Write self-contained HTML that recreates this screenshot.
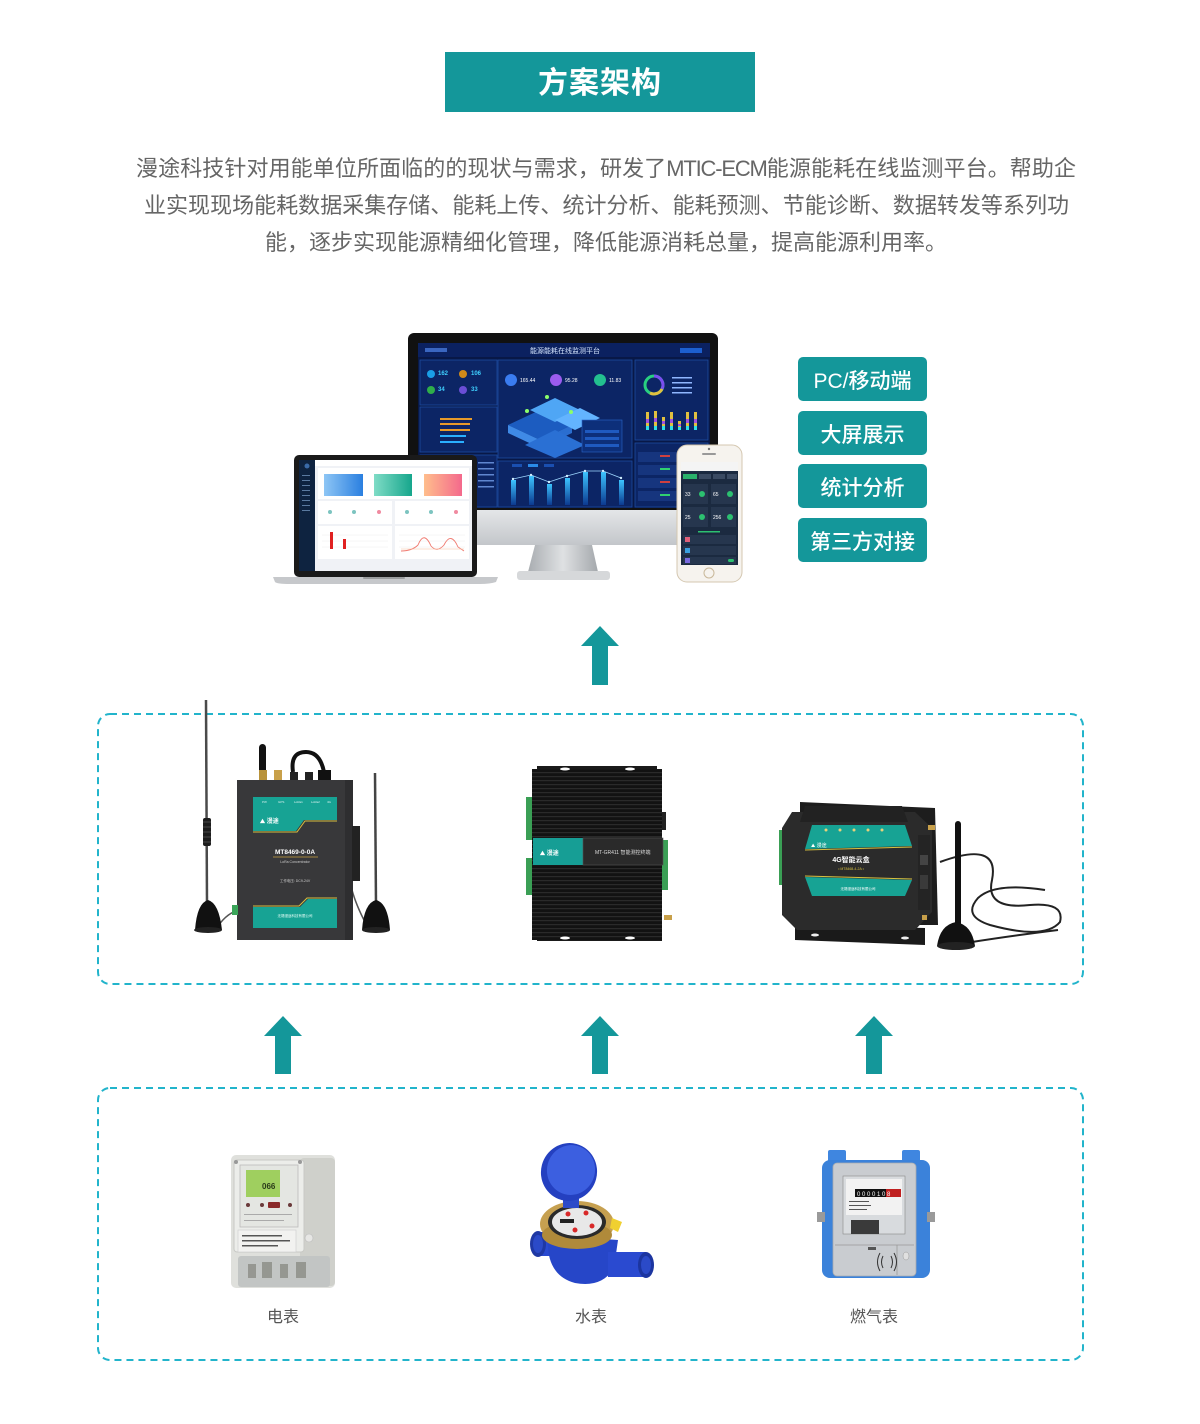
<!DOCTYPE html>
<html><head><meta charset="utf-8">
<style>
html,body{margin:0;padding:0;background:#fff;}
body{width:1200px;height:1424px;position:relative;overflow:hidden;font-family:"Liberation Sans","Noto Sans CJK SC",sans-serif;}
.title{position:absolute;left:445px;top:52px;width:310px;height:60px;background:#14979a;color:#fff;font-size:30px;font-weight:bold;text-align:center;line-height:63px;letter-spacing:1px;}
.p{position:absolute;font-size:22px;color:#666;line-height:37px;height:37px;text-align:justify;text-align-last:justify;}
.btn{position:absolute;left:798px;width:129px;height:44px;background:#14979a;border-radius:5px;color:#fff;font-size:21px;text-align:center;line-height:50px;font-weight:500;overflow:hidden;}
.lbl{position:absolute;font-size:16px;color:#555;width:100px;text-align:center;line-height:24px;}
svg{position:absolute;left:0;top:0;}
</style></head><body>

<svg width="1200" height="1424" viewBox="0 0 1200 1424" xmlns="http://www.w3.org/2000/svg" font-family="Liberation Sans, Noto Sans CJK SC, sans-serif">
<defs>
  <pattern id="fins" x="0" y="0" width="4" height="4" patternUnits="userSpaceOnUse">
    <rect width="4" height="4" fill="#121212"/>
    <rect y="0" width="4" height="1.2" fill="#2a2a2a"/>
  </pattern>
  <linearGradient id="gBlue" x1="0" y1="0" x2="1" y2="0"><stop offset="0" stop-color="#8ec6f5"/><stop offset="1" stop-color="#2a7fe0"/></linearGradient>
  <linearGradient id="gTeal" x1="0" y1="0" x2="1" y2="0"><stop offset="0" stop-color="#7fdcc6"/><stop offset="1" stop-color="#16a68c"/></linearGradient>
  <linearGradient id="gSal" x1="0" y1="0" x2="1" y2="0"><stop offset="0" stop-color="#ffbe8c"/><stop offset="1" stop-color="#f4698c"/></linearGradient>
  <linearGradient id="gChin" x1="0" y1="0" x2="0" y2="1"><stop offset="0" stop-color="#e4e6e8"/><stop offset="1" stop-color="#c3c6ca"/></linearGradient>
  <linearGradient id="gNeck" x1="0" y1="0" x2="1" y2="0"><stop offset="0" stop-color="#a9adb1"/><stop offset="0.5" stop-color="#dfe1e3"/><stop offset="1" stop-color="#a4a8ac"/></linearGradient>
  <linearGradient id="gBar" x1="0" y1="0" x2="0" y2="1"><stop offset="0" stop-color="#3cc4ff"/><stop offset="1" stop-color="#0c3a90"/></linearGradient>
</defs>

<!-- ============ MONITOR ============ -->
<rect x="408" y="333" width="310" height="212" rx="6" fill="#111"/>
<rect x="418" y="343" width="292" height="165" fill="#081847"/>
<rect x="408" y="510" width="310" height="35" fill="url(#gChin)"/>
<polygon points="535,545 592,545 598,572 528,572" fill="url(#gNeck)"/>
<rect x="517" y="571" width="93" height="9" rx="3" fill="#d6d8da"/>
<rect x="418" y="343" width="292" height="14" fill="#0b2160"/>
<text x="565" y="353" font-size="7" fill="#d6e6ff" text-anchor="middle">能源能耗在线监测平台</text>
<rect x="425" y="348" width="22" height="4" fill="#3a66c0"/>
<rect x="680" y="348" width="22" height="5" fill="#1c5fcf"/>
<g fill="#0c2565" stroke="#1d4aa0" stroke-width="0.8">
  <rect x="420" y="360" width="77" height="45"/>
  <rect x="420" y="407" width="77" height="45"/>
  <rect x="420" y="455" width="77" height="52"/>
  <rect x="498" y="360" width="134" height="98"/>
  <rect x="498" y="461" width="134" height="46"/>
  <rect x="635" y="360" width="73" height="80"/>
  <rect x="635" y="443" width="73" height="64"/>
</g>
<circle cx="431" cy="374" r="4" fill="#1a9fe6"/>
<circle cx="463" cy="374" r="4" fill="#d08a1a"/>
<circle cx="431" cy="390" r="4" fill="#2fae4a"/>
<circle cx="463" cy="390" r="4" fill="#6b4ed6"/>
<g font-size="6" fill="#3fd0ff" font-weight="bold">
<text x="438" y="375">162</text><text x="471" y="375">106</text>
<text x="438" y="391">34</text><text x="471" y="391">33</text></g>
<g fill="#e69a2a"><rect x="440" y="418" width="32" height="2"/><rect x="440" y="423" width="30" height="2"/><rect x="440" y="429" width="30" height="2"/></g>
<g fill="#2ab0ff"><rect x="440" y="435" width="26" height="2"/><rect x="440" y="441" width="24" height="2"/></g>
<circle cx="511" cy="380" r="6" fill="#3a7cf0"/>
<circle cx="556" cy="380" r="6" fill="#9b5cf0"/>
<circle cx="600" cy="380" r="6" fill="#23c08f"/>
<g font-size="5" fill="#fff"><text x="520" y="382">165.44</text><text x="565" y="382">95.28</text><text x="609" y="382">11.83</text></g>
<polygon points="508,425 540,410 572,425 540,440" fill="#1c5cc0"/>
<polygon points="508,425 540,440 540,448 508,433" fill="#3f8ae6"/>
<polygon points="540,440 572,425 572,433 540,448" fill="#2a6ed0"/>
<polygon points="530,410 555,398 580,410 555,422" fill="#4fa6f5"/>
<polygon points="555,420 580,408 600,418 575,430" fill="#63b4ff"/>
<polygon points="525,445 555,430 585,445 555,458" fill="#2a70d4"/>
<rect x="582" y="420" width="40" height="32" fill="#0d2f7a" stroke="#2a66c8" stroke-width="0.6"/>
<g fill="#1f5ac0"><rect x="585" y="430" width="34" height="3"/><rect x="585" y="437" width="34" height="3"/><rect x="585" y="444" width="34" height="3"/></g>
<circle cx="547" cy="397" r="2" fill="#8cff6a"/><circle cx="527" cy="411" r="2" fill="#8cff6a"/><circle cx="571" cy="412" r="2" fill="#8cff6a"/>
<g fill="url(#gBar)">
<rect x="511" y="480" width="5" height="25"/><rect x="529" y="476" width="5" height="29"/><rect x="547" y="484" width="5" height="21"/>
<rect x="565" y="478" width="5" height="27"/><rect x="583" y="472" width="5" height="33"/><rect x="601" y="472" width="5" height="33"/><rect x="619" y="480" width="5" height="25"/></g>
<polyline points="513,479 531,475 549,482 567,476 585,471 603,471 621,478" fill="none" stroke="#9fd8ff" stroke-width="0.8"/>
<g fill="#d0eeff"><circle cx="513" cy="479" r="1.2"/><circle cx="531" cy="475" r="1.2"/><circle cx="549" cy="482" r="1.2"/><circle cx="567" cy="476" r="1.2"/><circle cx="585" cy="471" r="1.2"/><circle cx="603" cy="471" r="1.2"/><circle cx="621" cy="478" r="1.2"/></g>
<g fill="#1a4fb0"><rect x="512" y="464" width="10" height="3"/><rect x="528" y="464" width="10" height="3" fill="#2a8ae8"/><rect x="544" y="464" width="10" height="3"/></g>
<circle cx="654" cy="385" r="9" fill="none" stroke="#28d080" stroke-width="3"/>
<path d="M654 376 A9 9 0 0 1 662 389" fill="none" stroke="#7a4df0" stroke-width="3"/>
<path d="M662 389 A9 9 0 0 1 650 393" fill="none" stroke="#e0c040" stroke-width="3"/>
<g fill="#8fb6ff"><rect x="672" y="377" width="20" height="1.5"/><rect x="672" y="382" width="20" height="1.5"/><rect x="672" y="387" width="20" height="1.5"/><rect x="672" y="392" width="20" height="1.5"/></g>
<g>
<rect x="646" y="412" width="3" height="18" fill="#e0c040"/><rect x="654" y="411" width="3" height="19" fill="#e0c040"/><rect x="662" y="417" width="3" height="13" fill="#e0c040"/>
<rect x="670" y="412" width="3" height="18" fill="#e0c040"/><rect x="678" y="421" width="3" height="9" fill="#e0c040"/><rect x="686" y="412" width="3" height="18" fill="#e0c040"/><rect x="694" y="412" width="3" height="18" fill="#e0c040"/>
<g fill="#a050e0"><rect x="646" y="419" width="3" height="4"/><rect x="654" y="418" width="3" height="4"/><rect x="662" y="421" width="3" height="3"/><rect x="670" y="419" width="3" height="4"/><rect x="678" y="424" width="3" height="2"/><rect x="686" y="419" width="3" height="4"/><rect x="694" y="419" width="3" height="4"/></g>
<g fill="#30e0e8"><rect x="646" y="426" width="3" height="4"/><rect x="654" y="426" width="3" height="4"/><rect x="662" y="426" width="3" height="4"/><rect x="670" y="426" width="3" height="4"/><rect x="678" y="427" width="3" height="3"/><rect x="686" y="426" width="3" height="4"/><rect x="694" y="426" width="3" height="4"/></g>
</g>
<g fill="#16357e"><rect x="638" y="452" width="67" height="10"/><rect x="638" y="465" width="67" height="10"/><rect x="638" y="478" width="67" height="10"/><rect x="638" y="491" width="67" height="10"/></g>
<g fill="#d04040"><rect x="660" y="455" width="10" height="2"/><rect x="660" y="481" width="10" height="2"/></g>
<g fill="#30d070"><rect x="660" y="468" width="10" height="2"/><rect x="660" y="494" width="10" height="2"/></g>
<g fill="#5f86d0"><rect x="478" y="462" width="16" height="1.5"/><rect x="478" y="468" width="16" height="1.5"/><rect x="478" y="474" width="16" height="1.5"/><rect x="478" y="480" width="16" height="1.5"/><rect x="478" y="486" width="16" height="1.5"/></g>

<!-- ============ LAPTOP ============ -->
<rect x="294" y="455" width="183" height="122" rx="5" fill="#1a1a1a"/>
<rect x="299" y="460" width="173" height="111" fill="#f0f2f6"/>
<rect x="299" y="460" width="16" height="111" fill="#0e2340"/>
<rect x="315" y="460" width="157" height="6" fill="#fff"/>
<circle cx="307" cy="466" r="2.5" fill="#3a6aa8"/>
<g fill="#5a7aa0"><rect x="302" y="475" width="8" height="1"/><rect x="302" y="480" width="8" height="1"/><rect x="302" y="485" width="8" height="1"/><rect x="302" y="490" width="8" height="1"/><rect x="302" y="495" width="8" height="1"/><rect x="302" y="500" width="8" height="1"/><rect x="302" y="505" width="8" height="1"/><rect x="302" y="510" width="8" height="1"/></g>
<rect x="318" y="468" width="151" height="31" fill="#fff"/>
<rect x="324" y="474" width="39" height="22" fill="url(#gBlue)"/>
<rect x="374" y="474" width="38" height="22" fill="url(#gTeal)"/>
<rect x="424" y="474" width="38" height="22" fill="url(#gSal)"/>
<g fill="#fff"><rect x="318" y="501" width="74" height="23"/><rect x="395" y="501" width="74" height="23"/><rect x="318" y="526" width="74" height="33"/><rect x="395" y="526" width="74" height="33"/></g>
<g fill="#7cc4c0"><circle cx="330" cy="512" r="2"/><circle cx="354" cy="512" r="2"/><circle cx="407" cy="512" r="2"/><circle cx="431" cy="512" r="2"/></g>
<g fill="#f08aa0"><circle cx="379" cy="512" r="2"/><circle cx="456" cy="512" r="2"/></g>
<g stroke="#eee" stroke-width="0.5"><line x1="322" y1="535" x2="388" y2="535"/><line x1="322" y1="541" x2="388" y2="541"/><line x1="322" y1="547" x2="388" y2="547"/><line x1="399" y1="535" x2="465" y2="535"/><line x1="399" y1="541" x2="465" y2="541"/><line x1="399" y1="547" x2="465" y2="547"/></g>
<rect x="330" y="532" width="3" height="17" fill="#e02020"/>
<rect x="343" y="539" width="3" height="10" fill="#e02020"/>
<path d="M401 551 Q412 551 418 545 Q424 530 431 546 Q437 553 444 545 Q451 531 458 547 L464 551" fill="none" stroke="#f07a70" stroke-width="0.9"/>
<line x1="401" y1="549" x2="464" y2="549" stroke="#f5c0a0" stroke-width="0.6"/>
<path d="M273 577 L498 577 L496 582 Q490 584 480 584 L290 584 Q277 584 275 582 Z" fill="#c6c8cb"/>
<rect x="363" y="577" width="42" height="2" rx="1" fill="#9a9c9e"/>

<!-- ============ PHONE ============ -->
<rect x="677" y="445" width="65" height="137" rx="10" fill="#f6f3ee" stroke="#d4c7b0" stroke-width="1"/>
<rect x="702" y="453" width="14" height="2" rx="1" fill="#999"/>
<circle cx="709" cy="449" r="1.2" fill="#777"/>
<rect x="681" y="462" width="57" height="103" fill="#1b2a40"/>
<rect x="681" y="462" width="57" height="9" fill="#f4f4f4"/>
<rect x="683" y="474" width="14" height="5" fill="#28b06a"/>
<g fill="#3a4a62"><rect x="699" y="474" width="12" height="5"/><rect x="713" y="474" width="12" height="5"/><rect x="727" y="474" width="10" height="5"/></g>
<g fill="#26364e"><rect x="683" y="484" width="25" height="20"/><rect x="711" y="484" width="25" height="20"/><rect x="683" y="507" width="25" height="20"/><rect x="711" y="507" width="25" height="20"/></g>
<g font-size="5" fill="#fff"><text x="685" y="496">33</text><text x="713" y="496">65</text><text x="685" y="519">25</text><text x="713" y="519">256</text></g>
<g fill="#2cc070"><circle cx="702" cy="494" r="3"/><circle cx="730" cy="494" r="3"/><circle cx="702" cy="517" r="3"/><circle cx="730" cy="517" r="3"/></g>
<rect x="698" y="531" width="22" height="1.5" fill="#2cc070"/>
<g fill="#26364e"><rect x="683" y="535" width="53" height="9"/><rect x="683" y="546" width="53" height="9"/><rect x="683" y="557" width="53" height="7"/></g>
<rect x="685" y="537" width="5" height="5" fill="#e0607a"/><rect x="685" y="548" width="5" height="5" fill="#3aa0e0"/><rect x="685" y="558" width="5" height="5" fill="#7a6ae0"/>
<rect x="728" y="559" width="6" height="3" rx="1.5" fill="#2cc070"/>
<circle cx="709" cy="573" r="5" fill="none" stroke="#c9b89a" stroke-width="1"/>

<!-- ============ ARROWS ============ -->
<g fill="#14979a">
<polygon points="581,646 600,626 619,646"/><rect x="592" y="645" width="16" height="40"/>
<polygon points="264,1036 283,1016 302,1036"/><rect x="275" y="1035" width="16" height="39"/>
<polygon points="581,1036 600,1016 619,1036"/><rect x="592" y="1035" width="16" height="39"/>
<polygon points="855,1036 874,1016 893,1036"/><rect x="866" y="1035" width="16" height="39"/>
</g>

<!-- ============ DASHED BOXES ============ -->
<rect x="98" y="714" width="985" height="270" rx="12" fill="none" stroke="#22b4cb" stroke-width="2" stroke-dasharray="7 5"/>
<rect x="98" y="1088" width="985" height="272" rx="12" fill="none" stroke="#22b4cb" stroke-width="2" stroke-dasharray="7 5"/>

<!-- ============ DEVICE 1 ============ -->
<path d="M218 926 Q228 912 240 910" fill="none" stroke="#555" stroke-width="1.5"/>
<path d="M366 924 Q356 905 352 890" fill="none" stroke="#555" stroke-width="1.5"/>
<line x1="206" y1="700" x2="207" y2="905" stroke="#4a4a4a" stroke-width="2.5"/>
<rect x="203" y="818" width="8" height="28" rx="2" fill="#1c1c1c"/>
<g stroke="#555" stroke-width="0.8"><line x1="203" y1="822" x2="211" y2="822"/><line x1="203" y1="827" x2="211" y2="827"/><line x1="203" y1="832" x2="211" y2="832"/><line x1="203" y1="837" x2="211" y2="837"/><line x1="203" y1="842" x2="211" y2="842"/></g>
<path d="M195 930 Q197 903 208 900 Q219 903 222 930 Z" fill="#111"/>
<ellipse cx="208" cy="930" rx="14" ry="3" fill="#222"/>
<line x1="375" y1="773" x2="376" y2="905" stroke="#444" stroke-width="2.5"/>
<path d="M362 930 Q364 903 376 900 Q388 903 390 930 Z" fill="#111"/>
<ellipse cx="376" cy="930" rx="14" ry="3" fill="#222"/>
<rect x="259" y="744" width="7" height="30" rx="3.5" fill="#111"/>
<rect x="259" y="770" width="8" height="10" fill="#b8923a"/>
<rect x="274" y="770" width="8" height="10" fill="#c8a04a"/>
<rect x="290" y="772" width="8" height="8" fill="#222"/>
<rect x="305" y="772" width="8" height="8" fill="#222"/>
<path d="M293 772 Q290 752 306 752 Q320 752 324 772" fill="none" stroke="#111" stroke-width="4"/>
<rect x="318" y="770" width="13" height="10" fill="#111"/>
<rect x="237" y="780" width="116" height="160" fill="#38383a"/>
<rect x="345" y="780" width="8" height="160" fill="#2e2e30"/>
<rect x="352" y="826" width="8" height="55" fill="#222"/>
<rect x="232" y="905" width="6" height="10" fill="#3aa55a"/>
<polygon points="253,797 337,797 337,820 304,820 296,831 253,831" fill="#17a394"/>
<polyline points="253,832 297,832 305,821 337,821" fill="none" stroke="#d8c040" stroke-width="1"/>
<g fill="#d8f0ee" font-size="3"><text x="262" y="803">PW</text><text x="278" y="803">GPS</text><text x="294" y="803">LoRa1</text><text x="311" y="803">LoRa2</text><text x="327" y="803">4G</text></g>
<text x="260" y="823" font-size="6" fill="#fff" font-weight="bold">⛰ 漫途</text>
<text x="295" y="854" font-size="6.5" fill="#fff" font-weight="bold" text-anchor="middle">MT8469-0-0A</text>
<line x1="273" y1="857" x2="318" y2="857" stroke="#c8a040" stroke-width="0.7"/>
<text x="295" y="863" font-size="3.5" fill="#ccc" text-anchor="middle">LoRa Concentrator</text>
<text x="295" y="882" font-size="3.5" fill="#ccc" text-anchor="middle">工作电压: DC9-24V</text>
<polygon points="253,907 300,907 308,899 337,899 337,928 253,928" fill="#17a394"/>
<polyline points="253,906 299,906 307,898 337,898" fill="none" stroke="#d8c040" stroke-width="1"/>
<text x="295" y="917" font-size="3.5" fill="#e8fff8" text-anchor="middle">无锡漫途科技有限公司</text>

<!-- ============ DEVICE 2 ============ -->
<rect x="537" y="766" width="120" height="6" fill="#1a1a1a"/>
<rect x="537" y="935" width="125" height="6" fill="#1a1a1a"/>
<rect x="532" y="769" width="130" height="171" fill="url(#fins)"/>
<ellipse cx="565" cy="769" rx="5" ry="1.5" fill="#fff"/><ellipse cx="630" cy="769" rx="5" ry="1.5" fill="#fff"/>
<ellipse cx="565" cy="938" rx="5" ry="1.5" fill="#fff"/><ellipse cx="630" cy="938" rx="5" ry="1.5" fill="#fff"/>
<rect x="526" y="797" width="6" height="43" fill="#3a9f55"/>
<rect x="526" y="858" width="6" height="37" fill="#3a9f55"/>
<rect x="662" y="840" width="6" height="50" fill="#3a9f55"/>
<rect x="662" y="812" width="4" height="18" fill="#222"/>
<rect x="664" y="915" width="8" height="5" fill="#c8a04a"/>
<rect x="533" y="838" width="50" height="27" fill="#169e95"/>
<rect x="583" y="838" width="80" height="27" fill="#2a2a2a" stroke="#555" stroke-width="0.6"/>
<text x="540" y="855" font-size="6" fill="#fff" font-weight="bold">⛰ 漫途</text>
<text x="595" y="854" font-size="5" fill="#ddd">MT-GR411  智能测控终端</text>

<!-- ============ DEVICE 3 ============ -->
<path d="M940 862 Q1000 840 992 880 Q985 910 1030 905 Q1065 902 1060 922 Q1045 940 990 925 Q962 916 978 898 Q995 882 1045 890" fill="none" stroke="#222" stroke-width="2"/>
<path d="M972 942 Q1010 936 1058 930" fill="none" stroke="#222" stroke-width="2"/>
<polygon points="800,802 935,808 938,925 800,925" fill="#1d1d1d"/>
<polygon points="795,925 925,928 925,945 795,940" fill="#1a1a1a"/>
<ellipse cx="815" cy="935" rx="4" ry="1.5" fill="#eee"/><ellipse cx="905" cy="938" rx="4" ry="1.5" fill="#eee"/>
<rect x="779" y="830" width="5" height="55" fill="#3a9f55"/>
<path d="M792 812 L915 812 L932 828 L932 912 L915 930 L797 930 L782 915 L782 828 Z" fill="#2b2b2b"/>
<polygon points="805,806 902,806 908,822 800,822" fill="#222"/>
<polygon points="812,825 905,825 912,846 805,849" fill="#17a394"/>
<line x1="805" y1="850" x2="912" y2="847" stroke="#d8c040" stroke-width="1"/>
<g fill="#e8d27a"><circle cx="826" cy="830" r="1.5"/><circle cx="840" cy="830" r="1.5"/><circle cx="854" cy="830" r="1.5"/><circle cx="868" cy="830" r="1.5"/><circle cx="882" cy="830" r="1.5"/></g>
<text x="811" y="847" font-size="5" fill="#fff">⛰ 漫途</text>
<text x="851" y="862" font-size="7" fill="#fff" text-anchor="middle" font-weight="bold">4G智能云盒</text>
<text x="851" y="870" font-size="3.5" fill="#d8c040" text-anchor="middle">• MT8468-4-2A •</text>
<line x1="805" y1="876" x2="912" y2="879" stroke="#d8c040" stroke-width="1"/>
<polygon points="805,877 912,880 905,896 812,896" fill="#17a394"/>
<text x="858" y="890" font-size="3.5" fill="#fff" text-anchor="middle">无锡漫途科技有限公司</text>
<rect x="918" y="835" width="12" height="75" fill="#242424"/>
<rect x="920" y="855" width="8" height="10" fill="#444"/>
<rect x="920" y="875" width="8" height="14" fill="#3a3a3a"/>
<rect x="928" y="825" width="7" height="5" fill="#c8a04a"/>
<rect x="922" y="915" width="5" height="5" fill="#c8a04a"/>
<line x1="958" y1="824" x2="958" y2="928" stroke="#111" stroke-width="6" stroke-linecap="round"/>
<path d="M937 946 Q940 925 956 922 Q972 925 975 946 Z" fill="#111"/>
<ellipse cx="956" cy="946" rx="19" ry="4" fill="#222"/>

<!-- ============ ELECTRIC METER ============ -->
<rect x="231" y="1155" width="104" height="133" rx="5" fill="#dfe0dc"/>
<rect x="300" y="1158" width="35" height="128" rx="4" fill="#cfd0cb"/>
<rect x="234" y="1160" width="70" height="92" rx="3" fill="#ecedea" stroke="#c8c9c5" stroke-width="1"/>
<rect x="240" y="1165" width="58" height="62" fill="#e4e6e2" stroke="#bbb" stroke-width="0.8"/>
<rect x="246" y="1170" width="34" height="27" fill="#9fcf5f"/>
<text x="262" y="1189" font-size="8" fill="#2a3a1a" font-weight="bold">066</text>
<g fill="#6a3a3a"><circle cx="248" cy="1205" r="2"/><circle cx="262" cy="1205" r="2"/><circle cx="290" cy="1205" r="2"/></g>
<rect x="268" y="1202" width="12" height="6" rx="1" fill="#8a2a2a"/>
<g fill="#aaa"><rect x="244" y="1214" width="48" height="1"/><rect x="244" y="1220" width="40" height="1"/></g>
<rect x="238" y="1230" width="58" height="22" fill="#f2f2f0" stroke="#ccc" stroke-width="0.6"/>
<g fill="#555"><rect x="242" y="1235" width="40" height="1.5"/><rect x="242" y="1240" width="48" height="1.5"/><rect x="242" y="1245" width="36" height="1.5"/></g>
<circle cx="309" cy="1238" r="4" fill="#e6e6e4" stroke="#bbb" stroke-width="0.6"/>
<rect x="238" y="1256" width="92" height="31" rx="3" fill="#c2c5c4"/>
<g fill="#6a6a60" opacity="0.5"><rect x="248" y="1264" width="8" height="14"/><rect x="262" y="1262" width="10" height="16"/><rect x="280" y="1264" width="8" height="14"/><rect x="296" y="1262" width="10" height="16"/></g>
<circle cx="236" cy="1162" r="2" fill="#999"/><circle cx="300" cy="1162" r="2" fill="#999"/>

<!-- ============ WATER METER ============ -->
<rect x="537" y="1232" width="25" height="24" fill="#2a4ad0"/>
<ellipse cx="538" cy="1244" rx="8" ry="13" fill="#1f38a4"/>
<ellipse cx="538" cy="1244" rx="5" ry="9" fill="#2b4ac8"/>
<path d="M548 1235 Q545 1275 575 1283 Q602 1288 614 1268 L618 1240 Z" fill="#2646c8"/>
<rect x="608" y="1252" width="38" height="25" fill="#2a4ad0"/>
<ellipse cx="646" cy="1265" rx="8" ry="13" fill="#1c35a0"/>
<ellipse cx="646" cy="1265" rx="5" ry="9" fill="#2b4ac8"/>
<ellipse cx="577" cy="1224" rx="37" ry="23" fill="#c6a050"/>
<ellipse cx="577" cy="1235" rx="35" ry="14" fill="#b08a3a"/>
<ellipse cx="577" cy="1222" rx="29" ry="17" fill="#2a2a2a"/>
<ellipse cx="577" cy="1222" rx="25" ry="14" fill="#e8e8e8"/>
<g fill="#d82828"><circle cx="568" cy="1214" r="2.5"/><circle cx="586" cy="1213" r="2.5"/><circle cx="592" cy="1226" r="2.5"/><circle cx="575" cy="1230" r="2.5"/></g>
<rect x="560" y="1219" width="14" height="4" fill="#222"/>
<polygon points="612,1218 622,1222 618,1232 610,1228" fill="#f0d030"/>
<rect x="563" y="1192" width="16" height="16" fill="#2c4ac8"/>
<ellipse cx="569" cy="1172" rx="28" ry="29" fill="#2440c0" transform="rotate(15 569 1172)"/>
<ellipse cx="571" cy="1170" rx="24" ry="25" fill="#3c5fe0" transform="rotate(15 571 1170)"/>

<!-- ============ GAS METER ============ -->
<rect x="828" y="1150" width="18" height="14" rx="2" fill="#3f86e0"/>
<rect x="902" y="1150" width="18" height="14" rx="2" fill="#3f86e0"/>
<rect x="822" y="1160" width="108" height="118" rx="8" fill="#3b82da"/>
<rect x="817" y="1212" width="8" height="10" fill="#9a9a9a"/>
<rect x="927" y="1212" width="8" height="10" fill="#9a9a9a"/>
<rect x="833" y="1163" width="83" height="113" rx="4" fill="#c9ccd0" stroke="#a8abaf" stroke-width="0.8"/>
<rect x="843" y="1176" width="62" height="58" fill="#d8dbde" stroke="#888" stroke-width="0.6"/>
<rect x="846" y="1179" width="56" height="36" fill="#f2f2f2"/>
<rect x="855" y="1189" width="46" height="8" fill="#111"/>
<rect x="886" y="1189" width="15" height="8" fill="#c02020"/>
<g fill="#fff" font-size="6"><text x="857" y="1196">0 0 0 0 1 0 8</text></g>
<g fill="#555"><rect x="849" y="1201" width="20" height="1"/><rect x="849" y="1205" width="22" height="1"/><rect x="849" y="1209" width="18" height="1"/></g>
<rect x="851" y="1220" width="28" height="14" fill="#3a3a3a"/>
<line x1="835" y1="1245" x2="914" y2="1245" stroke="#999" stroke-width="0.8"/>
<line x1="897" y1="1245" x2="897" y2="1275" stroke="#999" stroke-width="0.8"/>
<ellipse cx="906" cy="1256" rx="3" ry="4" fill="#e0e0e0" stroke="#999" stroke-width="0.5"/>
<g fill="none" stroke="#333" stroke-width="1"><path d="M883 1256 Q880 1262 883 1268"/><path d="M880 1253 Q875 1262 880 1271"/><path d="M891 1256 Q894 1262 891 1268"/><path d="M894 1253 Q899 1262 894 1271"/></g>
<rect x="868" y="1247" width="8" height="3" fill="#555"/>
</svg>

<div class="title">方案架构</div>
<div class="p" style="left:136px;top:150px;width:940px;">漫途科技针对用能单位所面临的的现状与需求，研发了<span style="letter-spacing:-1.2px;">MTIC-ECM</span>能源能耗在线监测平台。帮助企</div>
<div class="p" style="left:144px;top:187px;width:925px;">业实现现场能耗数据采集存储、能耗上传、统计分析、能耗预测、节能诊断、数据转发等系列功</div>
<div class="p" style="left:265px;top:224px;width:700px;text-align:left;text-align-last:left;">能，逐步实现能源精细化管理，降低能源消耗总量，提高能源利用率。</div>

<div class="btn" style="top:357px;">PC/移动端</div>
<div class="btn" style="top:411px;">大屏展示</div>
<div class="btn" style="top:464px;">统计分析</div>
<div class="btn" style="top:518px;">第三方对接</div>

<div class="lbl" style="left:233px;top:1306px;">电表</div>
<div class="lbl" style="left:541px;top:1306px;">水表</div>
<div class="lbl" style="left:824px;top:1306px;">燃气表</div>
</body></html>
